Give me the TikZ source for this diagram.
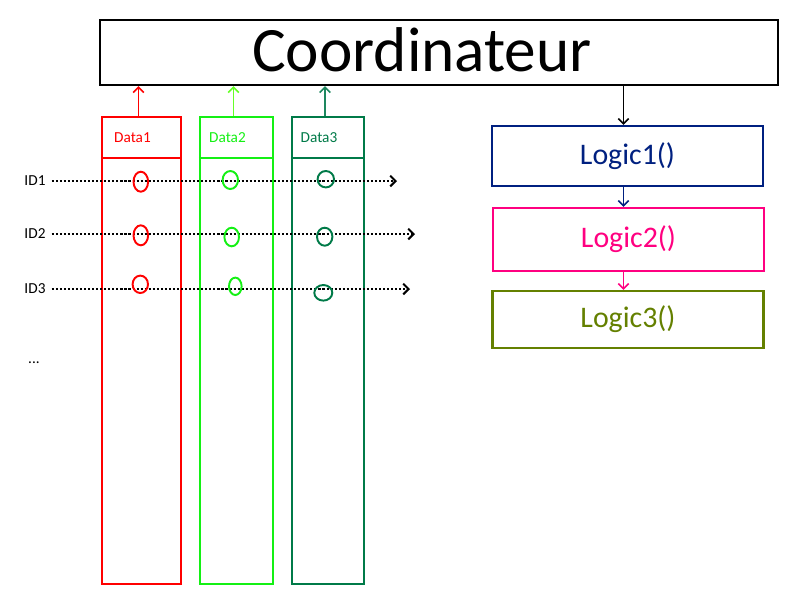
\documentclass[tikz,border=0pt]{standalone}
\usepackage{fontspec}
\setmainfont{Carlito}
\usepackage{tikz}
\usetikzlibrary{arrows.meta,calc}
\definecolor{dataA}{RGB}{255,0,0}
\definecolor{dataB}{RGB}{20,240,20}
\definecolor{dataBarrow}{RGB}{102,255,40}
\definecolor{dataC}{RGB}{0,122,72}
\definecolor{dataCarrow}{RGB}{30,135,95}
\definecolor{logicA}{RGB}{0,32,128}
\definecolor{logicB}{RGB}{255,0,128}
\definecolor{logicC}{RGB}{100,128,0}

\begin{document}
\begin{tikzpicture}[x=0.02cm, y=-0.02cm, >={Straight Barb[length=3pt,width=6pt]},
        box/.style={draw, line width=1.2pt, inner sep=0pt},
        logicbox/.style={box, minimum width=5.42cm, font=\fontsize{17}{19}\selectfont},
        small/.style={font=\fontsize{8.7}{10}\selectfont},
        link/.style={line width=0.9pt, ->}]
        \useasboundingbox (0,0) rectangle (800,600);

        \node[box, line width=1.4pt, minimum width=13.56cm, minimum height=1.3cm] (coord) at (439,52.5) {};
        \node[font=\fontsize{36}{40}\selectfont] (coordtext) at (422,50) {Coordinateur};

        \node[logicbox, draw=logicA, text=logicA, minimum height=1.2cm] (logic1) at (627.5,156) {Logic1()};
        \node[logicbox, draw=logicB, text=logicB, minimum height=1.26cm] (logic2) at (628.5,239.5) {Logic2()};
        \node[logicbox, draw=logicC, text=logicC, minimum height=1.14cm] (logic3) at (628,319.5) {Logic3()};
        \draw[link] ($(coord.south -| logic1.north)+(-4,0)$) -- ($(logic1.north)+(-4,0)$);
        \draw[link, logicA] ($(logic1.south)+(-4,0)$) -- ($(logic2.north -| logic1.south)+(-4,0)$);
        \draw[link, logicB] ($(logic2.south)+(-5,0)$) -- ($(logic3.north -| logic2.south)+(-5,0)$);

        % columns
        \foreach \n/\x/\w/\c/\a in {1/141.5/79/dataA/dataA, 2/236.5/73/dataB/dataBarrow, 3/328/72/dataC/dataCarrow} {
            \node[box, draw=\c, minimum width=\w*0.02cm, minimum height=9.34cm] (data\n) at (\x,350.5) {};
            \draw[line width=1.2pt, \c] (data\n.west |- 0,158) -- (data\n.east |- 0,158);
            \node[small, text=\c] (head\n) at (\x-9,137.5) {Data\n};
            \draw[link, \a] ($(data\n.north)+(-3,0)$) -- ($(coord.south -| data\n.north)+(-3,0)$);
        }

        % ids
        \foreach \n/\y/\e in {1/181/397, 2/234/415, 3/289/410} {
            \node[small] (id\n) at (35,\y) {ID\n};
            \coordinate (end\n) at (\e,\y);
            \draw[line width=1.2pt, dash pattern=on 1.2pt off 1.1pt, ->] (id\n.east) -- (end\n);
        }
        \node[small] (more) at (34,363) {...};

        \foreach \x/\y/\rx/\ry/\c in {140.8/181.7/7.3/10/dataA, 140.8/235.3/7.3/10/dataA, 140.3/284.3/7.7/8.7/dataA,
                230.3/180/7.7/9/dataB, 231.7/237/7.3/9.3/dataB, 235.3/286.3/6.3/8.7/dataB,
                325.8/179.2/8.2/8.2/dataC, 324.7/236.7/7.7/9/dataC, 323.3/292.8/9/7.8/dataC} {
            \draw[line width=1.1pt, \c] (\x,\y) ellipse [x radius=\rx*0.02cm, y radius=\ry*0.02cm];
        }
    \end{tikzpicture}
\end{document}
